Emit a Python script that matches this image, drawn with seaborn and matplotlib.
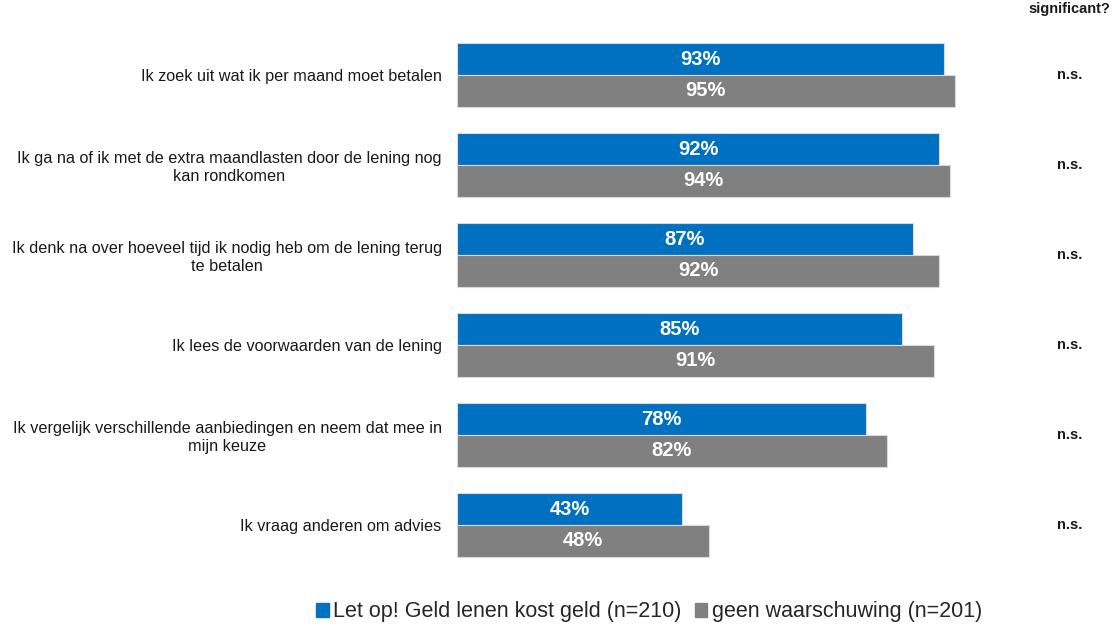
import matplotlib
matplotlib.use("Agg")
import matplotlib.pyplot as plt
import seaborn as sns
import pandas as pd

statements = [
    "Ik zoek uit wat ik per maand moet betalen",
    "Ik ga na of ik met de extra maandlasten door de lening nog\nkan rondkomen",
    "Ik denk na over hoeveel tijd ik nodig heb om de lening terug\nte betalen",
    "Ik lees de voorwaarden van de lening",
    "Ik vergelijk verschillende aanbiedingen en neem dat mee in\nmijn keuze",
    "Ik vraag anderen om advies",
]
series_names = ["Let op! Geld lenen kost geld (n=210)", "geen waarschuwing (n=201)"]
warning_values = [93, 92, 87, 85, 78, 43]
no_warning_values = [95, 94, 92, 91, 82, 48]
significance = ["n.s.", "n.s.", "n.s.", "n.s.", "n.s.", "n.s."]
colors = ["#0070C0", "#808080"]

df = pd.DataFrame({
    "statement": statements * 2,
    "group": [series_names[0]] * len(statements) + [series_names[1]] * len(statements),
    "value": warning_values + no_warning_values,
})

sns.set_theme(style="white")
plt.rcParams["font.family"] = ["Liberation Sans", "DejaVu Sans"]

fig = plt.figure(figsize=(11.14, 6.27), dpi=100)
ax = fig.add_axes([457 / 1114, 1 - 570 / 627, (981 - 457) / 1114, 540 / 627])

sns.barplot(
    data=df, y="statement", x="value", hue="group",
    hue_order=series_names, order=statements, palette=colors,
    orient="h", width=0.71, saturation=1, ax=ax,
    edgecolor="#d9d9d9", linewidth=0.8, legend=False,
)

ax.set_xlim(0, 100)
ax.set_ylim(len(statements) - 0.5, -0.5)
for s in ax.spines.values():
    s.set_visible(False)
ax.set_xticks([])
ax.set_xlabel("")
ax.set_ylabel("")
ax.tick_params(axis="y", length=0, pad=11)
ax.set_yticks(range(len(statements)))
ax.set_yticklabels(statements, fontsize=11.7, color="#1a1a1a", multialignment="center")

for cont in ax.containers:
    ax.bar_label(cont, labels=[f"{int(v)}%" for v in cont.datavalues],
                 label_type="center", color="white", fontsize=14.5, fontweight="bold")

# significance column
fig.text(1069 / 1114, 1 - 9 / 627, "significant?", ha="center", va="center",
         fontsize=10.5, fontweight="bold", color="#1a1a1a")
for i, sig in enumerate(significance):
    y_disp = ax.transData.transform((0, i))[1]
    fig.text(1070 / 1114, y_disp / fig.bbox.height, sig, ha="center", va="center",
             fontsize=10.5, fontweight="bold", color="#1a1a1a")

handles = [plt.Rectangle((0, 0), 1, 1, color=c) for c in colors]
fig.legend(handles, series_names, loc="center", bbox_to_anchor=(649 / 1114, 1 - 612 / 627),
           ncol=2, frameon=False, handlelength=0.6, handleheight=0.6, handletextpad=0.2,
           columnspacing=0.6, prop={"size": 15.5})

fig.savefig("out.png", dpi=100)
